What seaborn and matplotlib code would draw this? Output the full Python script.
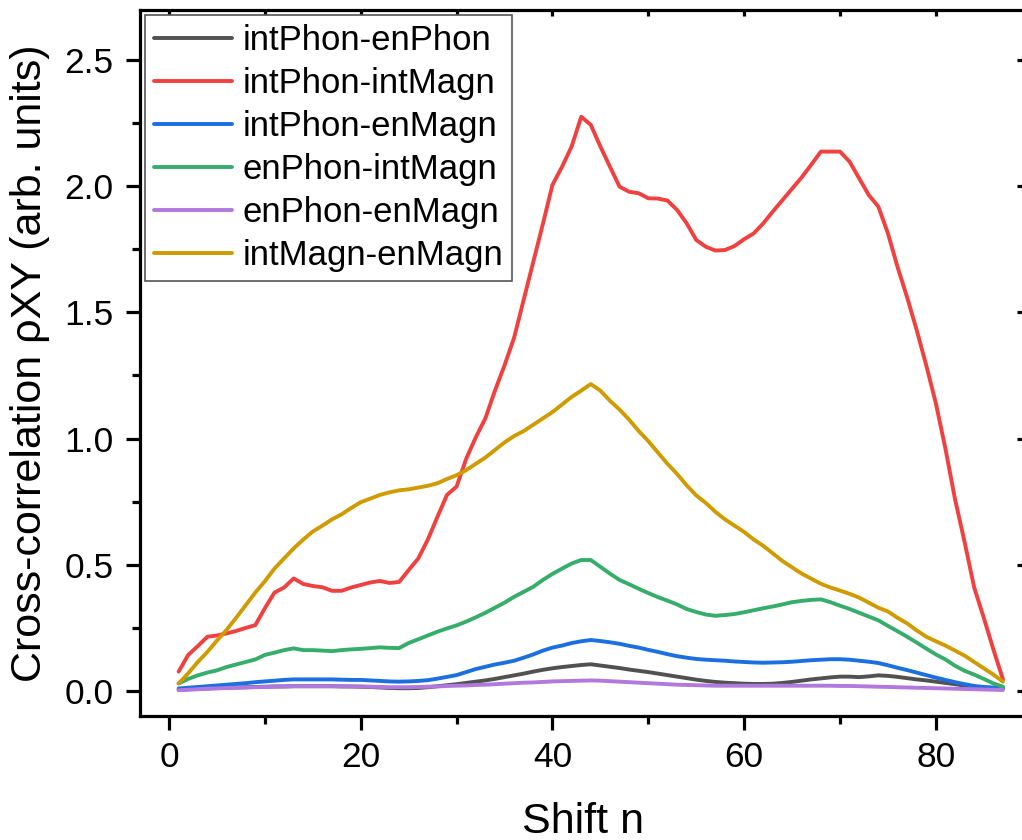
import numpy as np
import pandas as pd
import matplotlib
matplotlib.use("Agg")
import matplotlib.pyplot as plt
import seaborn as sns
from matplotlib.ticker import MultipleLocator

shift_n = list(range(1, 88))

int_phon_en_phon = [0.005, 0.007, 0.009, 0.010, 0.012, 0.013, 0.014, 0.015, 0.016, 0.017,
                    0.018, 0.018, 0.019, 0.019, 0.019, 0.019, 0.019, 0.018, 0.018, 0.017,
                    0.016, 0.014, 0.012, 0.011, 0.011, 0.012, 0.015, 0.019, 0.023, 0.027,
                    0.032, 0.037, 0.042, 0.048, 0.055, 0.062, 0.069, 0.077, 0.084, 0.090,
                    0.095, 0.099, 0.103, 0.106, 0.101, 0.096, 0.091, 0.085, 0.080, 0.075,
                    0.069, 0.063, 0.057, 0.051, 0.045, 0.040, 0.036, 0.033, 0.031, 0.029,
                    0.028, 0.028, 0.029, 0.032, 0.036, 0.041, 0.046, 0.050, 0.054, 0.057,
                    0.057, 0.055, 0.058, 0.062, 0.060, 0.056, 0.051, 0.046, 0.042, 0.037,
                    0.032, 0.027, 0.021, 0.016, 0.012, 0.010, 0.010]

int_phon_int_magn = [0.077, 0.143, 0.178, 0.215, 0.220, 0.228, 0.238, 0.250, 0.261, 0.328,
                     0.390, 0.410, 0.446, 0.424, 0.416, 0.411, 0.397, 0.397, 0.410, 0.420,
                     0.430, 0.436, 0.428, 0.432, 0.479, 0.525, 0.600, 0.690, 0.777, 0.810,
                     0.920, 1.005, 1.080, 1.190, 1.290, 1.400, 1.550, 1.700, 1.850, 2.005,
                     2.077, 2.157, 2.275, 2.243, 2.157, 2.077, 1.998, 1.978, 1.972, 1.952,
                     1.951, 1.943, 1.906, 1.853, 1.787, 1.760, 1.745, 1.747, 1.763, 1.790,
                     1.813, 1.853, 1.900, 1.945, 1.990, 2.035, 2.085, 2.137, 2.137, 2.137,
                     2.097, 2.031, 1.965, 1.919, 1.813, 1.680, 1.560, 1.430, 1.290, 1.140,
                     0.960, 0.760, 0.590, 0.410, 0.290, 0.165, 0.046]

int_phon_en_magn = [0.010, 0.013, 0.016, 0.019, 0.022, 0.025, 0.028, 0.031, 0.035, 0.038,
                    0.041, 0.044, 0.046, 0.046, 0.046, 0.046, 0.046, 0.045, 0.044, 0.044,
                    0.042, 0.040, 0.038, 0.037, 0.038, 0.040, 0.043, 0.049, 0.056, 0.063,
                    0.075, 0.087, 0.096, 0.105, 0.112, 0.120, 0.132, 0.145, 0.160, 0.172,
                    0.180, 0.190, 0.197, 0.202, 0.198, 0.193, 0.187, 0.179, 0.172, 0.163,
                    0.155, 0.146, 0.138, 0.132, 0.127, 0.124, 0.122, 0.120, 0.117, 0.115,
                    0.113, 0.112, 0.113, 0.114, 0.116, 0.119, 0.122, 0.124, 0.126, 0.126,
                    0.124, 0.120, 0.116, 0.111, 0.102, 0.092, 0.083, 0.073, 0.063, 0.053,
                    0.044, 0.035, 0.027, 0.020, 0.016, 0.014, 0.013]

en_phon_int_magn = [0.030, 0.048, 0.062, 0.073, 0.082, 0.095, 0.105, 0.115, 0.125, 0.143,
                    0.152, 0.162, 0.169, 0.162, 0.162, 0.160, 0.158, 0.162, 0.165, 0.167,
                    0.170, 0.173, 0.171, 0.170, 0.190, 0.205, 0.220, 0.235, 0.248, 0.260,
                    0.275, 0.292, 0.310, 0.330, 0.350, 0.373, 0.393, 0.413, 0.440, 0.464,
                    0.485, 0.505, 0.519, 0.519, 0.492, 0.465, 0.440, 0.423, 0.405, 0.388,
                    0.372, 0.358, 0.343, 0.325, 0.313, 0.303, 0.298, 0.301, 0.305, 0.312,
                    0.320, 0.328, 0.335, 0.343, 0.352, 0.357, 0.361, 0.363, 0.352, 0.338,
                    0.325, 0.310, 0.295, 0.280, 0.258, 0.237, 0.215, 0.192, 0.168, 0.145,
                    0.125, 0.100, 0.080, 0.065, 0.048, 0.030, 0.017]

en_phon_en_magn = [0.003, 0.005, 0.007, 0.009, 0.010, 0.012, 0.013, 0.014, 0.015, 0.016,
                   0.017, 0.018, 0.019, 0.019, 0.019, 0.019, 0.019, 0.019, 0.018, 0.018,
                   0.017, 0.016, 0.015, 0.015, 0.015, 0.016, 0.017, 0.018, 0.020, 0.021,
                   0.022, 0.024, 0.025, 0.027, 0.029, 0.031, 0.033, 0.034, 0.036, 0.038,
                   0.039, 0.040, 0.041, 0.042, 0.041, 0.039, 0.037, 0.035, 0.033, 0.031,
                   0.029, 0.027, 0.025, 0.024, 0.023, 0.022, 0.021, 0.021, 0.021, 0.021,
                   0.021, 0.021, 0.021, 0.021, 0.021, 0.021, 0.021, 0.021, 0.021, 0.020,
                   0.020, 0.019, 0.018, 0.017, 0.016, 0.015, 0.014, 0.013, 0.012, 0.011,
                   0.010, 0.009, 0.008, 0.007, 0.006, 0.005, 0.004]

int_magn_en_magn = [0.030, 0.070, 0.115, 0.155, 0.200, 0.242, 0.290, 0.340, 0.390, 0.435,
                    0.485, 0.525, 0.565, 0.600, 0.632, 0.655, 0.680, 0.700, 0.725, 0.748,
                    0.762, 0.777, 0.787, 0.795, 0.799, 0.806, 0.813, 0.823, 0.840, 0.855,
                    0.875, 0.900, 0.925, 0.955, 0.985, 1.010, 1.030, 1.055, 1.080, 1.105,
                    1.135, 1.165, 1.190, 1.216, 1.190, 1.150, 1.115, 1.075, 1.030, 0.990,
                    0.945, 0.900, 0.860, 0.815, 0.775, 0.745, 0.710, 0.680, 0.655, 0.630,
                    0.600, 0.575, 0.545, 0.515, 0.490, 0.465, 0.445, 0.425, 0.410, 0.398,
                    0.385, 0.370, 0.350, 0.330, 0.315, 0.290, 0.268, 0.240, 0.215, 0.197,
                    0.180, 0.160, 0.140, 0.115, 0.090, 0.065, 0.037]

series_names = ["intPhon-enPhon", "intPhon-intMagn", "intPhon-enMagn",
                "enPhon-intMagn", "enPhon-enMagn", "intMagn-enMagn"]
series_values = [int_phon_en_phon, int_phon_int_magn, int_phon_en_magn,
                 en_phon_int_magn, en_phon_en_magn, int_magn_en_magn]
colors = ["#515151", "#F04140", "#1C6FDF", "#37AD6B", "#B178DE", "#D09B00"]

x_ticks = [0, 20, 40, 60, 80]
y_ticks = [0.0, 0.5, 1.0, 1.5, 2.0, 2.5]

rows = []
for name, vals in zip(series_names, series_values):
    for n, v in zip(shift_n, vals):
        rows.append({"Shift n": n, "value": v, "series": name})
df = pd.DataFrame(rows)

sns.set_style("ticks")
plt.rcParams["font.family"] = ["Liberation Sans", "DejaVu Sans"]
plt.rcParams["text.color"] = "black"
plt.rcParams["axes.labelcolor"] = "black"
plt.rcParams["xtick.color"] = "black"
plt.rcParams["ytick.color"] = "black"

W, H = 1022, 840
fig = plt.figure(figsize=(W / 100, H / 100), dpi=100)
left_px, right_px, top_px, bottom_px = 140, 1025, 10, 716
ax = fig.add_axes([left_px / W, 1 - bottom_px / H,
                   (right_px - left_px) / W, (bottom_px - top_px) / H])

sns.lineplot(data=df, x="Shift n", y="value", hue="series", hue_order=series_names,
             palette=colors, linewidth=2.8, ax=ax, legend=True, sort=False)

ax.set_xlim(-3.03, 89.3)
ax.set_ylim(-0.099, 2.698)
ax.set_xticks(x_ticks)
ax.set_yticks(y_ticks)
ax.set_yticklabels([f"{t:.1f}" for t in y_ticks])
ax.xaxis.set_minor_locator(MultipleLocator(10))
ax.yaxis.set_minor_locator(MultipleLocator(0.25))

for s in ax.spines.values():
    s.set_linewidth(2.3)
    s.set_color("black")
    s.set_visible(True)

ax.tick_params(axis="both", which="major", direction="out", length=10, width=2.3,
               labelsize=25.5, colors="black", labelcolor="black")
ax.tick_params(axis="x", which="major", pad=8)
ax.tick_params(axis="y", which="major", pad=9)
ax.tick_params(axis="both", which="minor", direction="out", length=5.5, width=2.3,
               colors="black")

# mirrored ticks on top / right, pointing inward
ax2 = ax.secondary_xaxis("top")
ax2.set_xticks(x_ticks)
ax2.xaxis.set_minor_locator(MultipleLocator(10))
ax2.tick_params(axis="x", which="both", direction="in", length=4.5, width=2.3,
                labeltop=False, colors="black")
ax2.spines["top"].set_visible(False)
ay2 = ax.secondary_yaxis("right")
ay2.set_yticks(y_ticks)
ay2.tick_params(axis="y", which="major", direction="in", length=6, width=2.3,
                labelright=False, colors="black")
ay2.spines["right"].set_visible(False)

ax.set_xlabel("Shift n", fontsize=31, labelpad=20, color="black")
ax.set_ylabel("Cross-correlation ρXY (arb. units)", fontsize=31, labelpad=10, color="black")

leg = ax.legend(loc="upper left", fontsize=25, frameon=True, fancybox=False,
                handlelength=2.25, handletextpad=0.3, labelspacing=0.29,
                borderpad=0.25, borderaxespad=0.15)
leg.get_frame().set_edgecolor("#555555")
leg.get_frame().set_linewidth(1.2)
leg.get_frame().set_alpha(1)
for line in leg.get_lines():
    line.set_linewidth(2.8)
for t in leg.get_texts():
    t.set_color("black")

fig.savefig("out.png", dpi=100)
